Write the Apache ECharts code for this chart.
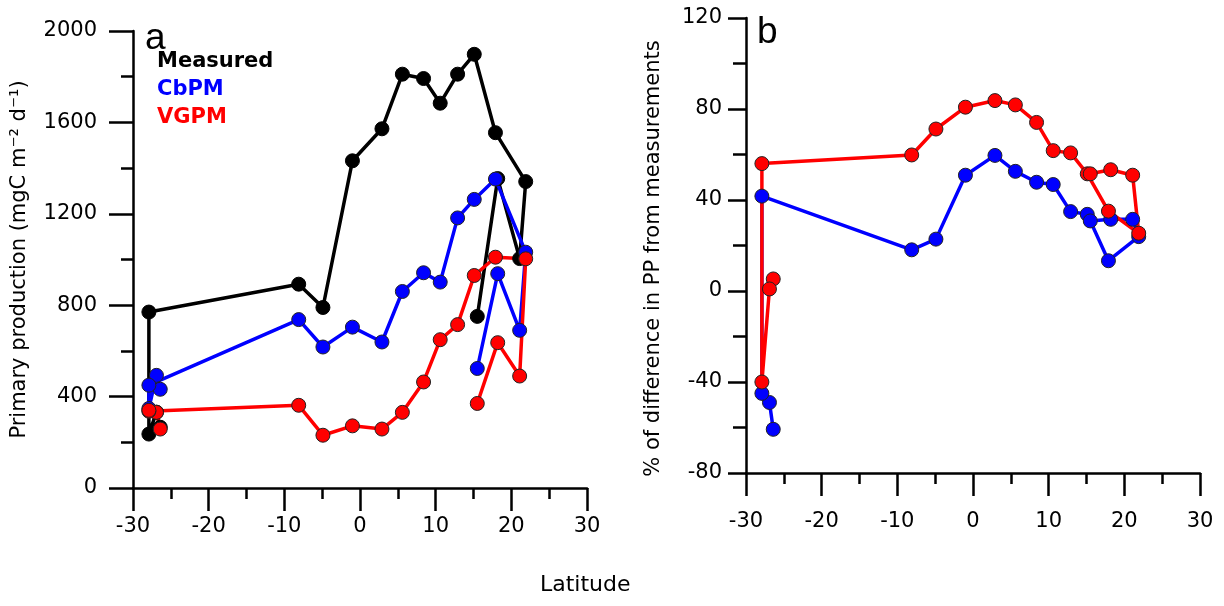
<!DOCTYPE html>
<html>
<head>
<meta charset="utf-8">
<script src="https://cdn.jsdelivr.net/npm/echarts@6/dist/echarts.min.js"></script>
<style>
  html, body { margin: 0; padding: 0; background: #fff; }
  #main { width: 1224px; height: 606px; }
</style>
</head>
<body>
<div id="main"></div>
<script>
// station latitudes, in cruise order (south cluster, northward leg, return leg)
const lat = [-26.4, -26.9, -27.9, -27.9, -8.1, -4.9, -1.0, 2.9, 5.6, 8.4, 10.6, 12.9, 15.1, 17.9, 21.9, 21.1, 18.2, 15.5];

// panel a: primary production (mgC m-2 d-1)
const measured = [266, 332, 236, 770, 892, 790, 1432, 1572, 1811, 1792, 1684, 1811, 1898, 1555, 1341, 1004, 1354, 751];
const cbpm = [432, 493, 348, 450, 737, 617, 704, 639, 860, 942, 901, 1182, 1263, 1352, 1032, 690, 938, 523];
const vgpm = [258, 331, 336, 340, 362, 231, 272, 258, 331, 464, 649, 715, 930, 1010, 1003, 490, 636, 370];

// panel b: % difference from measurements
const cbpmDiff = [-60.8, -49, -45, 41.7, 18.1, 22.8, 50.9, 59.6, 52.6, 47.8, 46.8, 34.9, 33.7, 13.3, 23.9, 31.5, 31.5, 30.8];
const vgpmDiff = [5.3, 0.9, -40, 56, 59.8, 71.2, 80.8, 83.7, 81.8, 74.1, 61.7, 60.7, 51.5, 35.1, 25.4, 50.9, 53.3, 51.5];

const pts = (ys) => lat.map((x, i) => [x, ys[i]]);

const FONT = 'DejaVu Sans';
const axisBlack = { color: '#000', width: 2.5 };
const plain = (v) => String(v);

const xAx = (gi, margin) => ({
  type: 'value', gridIndex: gi, min: -30, max: 30, interval: 10,
  axisLine: { onZero: false, lineStyle: axisBlack },
  axisTick: { length: 23, lineStyle: axisBlack },
  minorTick: { show: true, splitNumber: 2, length: 11, lineStyle: axisBlack },
  splitLine: { show: false },
  axisLabel: { color: '#000', fontSize: 21, fontFamily: FONT, margin: margin, formatter: plain }
});

const yAx = (gi, min, max, step, tick, minor, margin, name, gap, pad) => ({
  type: 'value', gridIndex: gi, min, max, interval: step,
  axisLine: { show: true, onZero: false, lineStyle: axisBlack },
  axisTick: { show: true, length: tick, lineStyle: axisBlack },
  minorTick: { show: true, splitNumber: 2, length: minor, lineStyle: axisBlack },
  splitLine: { show: false },
  axisLabel: { color: '#000', fontSize: 21, fontFamily: FONT, margin, formatter: plain },
  name, nameLocation: 'middle', nameGap: gap,
  nameTextStyle: { color: '#000', fontSize: 21, fontFamily: FONT, padding: pad }
});

const line = (name, color, data, idx, border) => ({
  name, type: 'line', xAxisIndex: idx, yAxisIndex: idx, data,
  symbol: 'circle', symbolSize: 14,
  lineStyle: { color, width: 3.5 },
  itemStyle: { color, borderColor: border ? '#222' : color, borderWidth: 1 },
  emphasis: { disabled: true }
});

const option = {
  animation: false,
  grid: [
    { left: 133, top: 31, width: 454, height: 457 },
    { left: 746, top: 18, width: 454, height: 455 }
  ],
  xAxis: [xAx(0, 28), xAx(1, 38)],
  yAxis: [
    yAx(0, 0, 2000, 400, 24, 12, 36, 'Primary production (mgC m\u207B\u00B2 d\u207B\u00B9)', 103, [0, 0, 0, 0]),
    yAx(1, -80, 120, 40, 18, 13, 24, '% of difference in PP from measurements', 82, [0, 26, 0, 0])
  ],
  graphic: [
    { type: 'text', left: 145, top: 20, style: { text: 'a', font: '37px "Liberation Sans"', fill: '#000' } },
    { type: 'text', left: 757, top: 14, style: { text: 'b', font: '37px "Liberation Sans"', fill: '#000' } },
    { type: 'text', left: 157, top: 51, style: { text: 'Measured', font: 'bold 21px "DejaVu Sans"', fill: '#000' } },
    { type: 'text', left: 157, top: 79, style: { text: 'CbPM', font: 'bold 21px "DejaVu Sans"', fill: '#0000ff' } },
    { type: 'text', left: 157, top: 107, style: { text: 'VGPM', font: 'bold 21px "DejaVu Sans"', fill: '#ff0000' } },
    { type: 'text', left: 540, top: 574, style: { text: 'Latitude', font: '22px "DejaVu Sans"', fill: '#000' } }
  ],
  series: [
    line('Measured', '#000000', pts(measured), 0, false),
    line('CbPM', '#0000ff', pts(cbpm), 0, true),
    line('VGPM', '#ff0000', pts(vgpm), 0, true),
    line('CbPM', '#0000ff', pts(cbpmDiff), 1, true),
    line('VGPM', '#ff0000', pts(vgpmDiff), 1, true)
  ]
};

echarts.init(document.getElementById('main')).setOption(option);
</script>
</body>
</html>
